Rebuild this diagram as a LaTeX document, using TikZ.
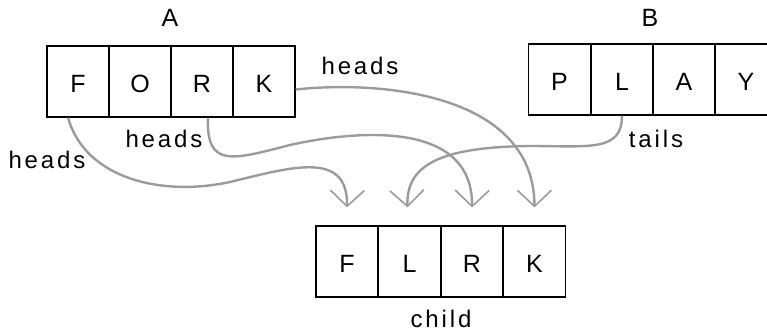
\documentclass[tikz,border=0pt]{standalone}
\usepackage{fontspec}
\setmainfont{Liberation Sans}[LetterSpace=12]
\usetikzlibrary{arrows.meta}
\definecolor{arrgray}{RGB}{155,155,155}
\tikzset{
  cell/.style={draw=black, line width=1.2pt, minimum width=62pt, minimum height=71pt, inner sep=0pt, text height=22pt, text depth=0pt, font=\fontsize{25}{25}\selectfont, anchor=center},
  lbl/.style={font=\fontsize{24}{24}\selectfont, inner sep=0pt, anchor=base},
  ttl/.style={font=\fontsize{25}{25}\selectfont, inner sep=0pt, anchor=base},
  link/.style={draw=arrgray, line width=2.4pt, -{Straight Barb[length=16pt, width=34pt, line width=1.6pt]}}
}
\begin{document}
\begin{tikzpicture}[x=1pt,y=-1pt]
\useasboundingbox (0,0) rectangle (767,331);
% parent A
\node[cell] (a1) at (78,81.5) {F};
\node[cell] (a2) at (140,81.5) {O};
\node[cell] (a3) at (202,81.5) {R};
\node[cell] (a4) at (264,81.5) {K};
% parent B
\node[cell] (b1) at (559.5,79.5) {P};
\node[cell] (b2) at (622,79.5) {L};
\node[cell] (b3) at (684,79.5) {A};
\node[cell] (b4) at (746,79.5) {Y};
% child
\node[cell] (c1) at (347,261.5) {F};
\node[cell] (c2) at (409.5,261.5) {L};
\node[cell] (c3) at (472,261.5) {R};
\node[cell] (c4) at (534.5,261.5) {K};
% titles
\node[ttl] (tA) at (170,27) {A};
\node[ttl] (tB) at (650,27) {B};
\node[lbl] (tC) at (441,327) {child};
% labels
\node[lbl] (h1) at (360,75) {heads};
\node[lbl] (h2) at (164,147) {heads};
\node[lbl] (h3) at (47,168) {heads};
\node[lbl] (t1) at (656,147) {tails};
% connectors
\draw[link] ([xshift=-10pt]a1.south) .. controls (85,178) and (160,197) .. (230,182) .. controls (292,167) and (348,150) .. ([yshift=18pt]c1.north);
\draw[link] ([xshift=6pt]a3.south) .. controls (206,168) and (232,160) .. (290,145) .. controls (362,129) and (473,122) .. ([yshift=18pt]c3.north);
\draw[link] ([yshift=-8pt]a4.east) .. controls (385,80) and (534,95) .. ([yshift=18pt]c4.north);
\draw[link] ([xshift=0pt]b2.south) .. controls (622,152) and (590,146) .. (530,146) .. controls (440,147) and (406,165) .. ([xshift=-2pt,yshift=18pt]c2.north);
\end{tikzpicture}
\end{document}
